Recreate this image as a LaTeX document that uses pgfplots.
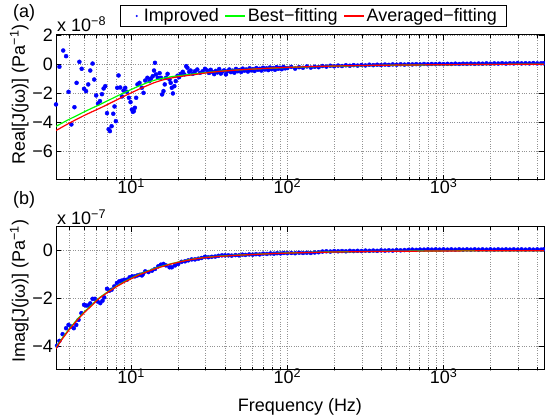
\documentclass[border=0pt]{standalone}
\usepackage{fontspec}
\setmainfont{Liberation Sans}
\usepackage{pgfplots}
\pgfplotsset{compat=1.18}
\newcommand{\bigf}{\fontsize{18}{21}\selectfont}
\begin{document}
\begin{tikzpicture}
% ---------------- (a) real part ----------------
\begin{axis}[scale only axis, width=488pt, xmode=log, xmin=3.3, xmax=4400,
  clip mode=individual,
  xtick={10,100,1000},
  xticklabels={10\textsuperscript{1},10\textsuperscript{2},10\textsuperscript{3}},
  minor xtick={4,5,6,7,8,9,20,30,40,50,60,70,80,90,200,300,400,500,600,700,800,900,2000,3000,4000},
  grid=both,
  major grid style={dotted, gray!85, line width=0.6pt},
  minor grid style={dotted, gray!85, line width=0.6pt},
  tick style={black, line width=0.6pt},
  major tick length=5pt, minor tick length=3pt,
  tick align=inside,
  axis line style={line width=1pt},
  tick label style={font=\bigf},
  xticklabel style={anchor=base, yshift=-13.5pt},
  yticklabel style={inner xsep=0pt, xshift=-3pt},
  label style={font=\bigf},
  ylabel style={at={(axis description cs:-0.0754,0.59)}, anchor=center},
  at={(56pt,239pt)}, anchor=south west, height=145pt,
  ymin=-8, ymax=2, ytick={-6,-4,-2,0,2}, yticklabels={−6,−4,−2,0,2},
  ylabel={Real[J(jω)] (Pa\textsuperscript{−1})},
  legend columns=3,
  legend style={at={(axis description cs:0.5274,1.131)}, anchor=center, draw=black, line width=0.8pt,
    font=\bigf, inner xsep=7pt, inner ysep=1.5pt,
    /tikz/every even column/.append style={column sep=4pt}},
]
\addplot[only marks, mark=*, mark size=2pt, mark options={draw=blue, fill=blue},
  legend image code/.code={\path[draw=none, fill=none] (0pt,0pt) -- (14pt,0pt); \fill[blue, draw=none] (9pt,0pt) circle (1.2pt);}] table {
3.30 -2.79
3.47 -0.19
3.67 0.93
3.83 0.54
3.97 -1.92
4.14 -4.17
4.33 -2.98
4.47 -1.30
4.66 0.15
4.82 -0.33
4.99 -1.71
5.14 -1.87
5.31 -1.41
5.47 -0.45
5.66 0.03
5.80 -1.07
5.97 -2.17
6.13 -2.72
6.31 -2.56
6.50 -2.08
6.66 -1.69
6.82 -1.53
7.00 -3.39
7.17 -4.50
7.31 -4.63
7.49 -4.29
7.68 -3.43
7.82 -2.93
7.98 -3.94
8.14 -1.64
8.30 -0.79
8.51 -1.62
8.73 -2.24
8.93 -1.83
9.16 -1.64
9.39 -1.92
9.67 -2.33
9.90 -2.63
10.1 -3.14
10.25 -3.30
10.4 -3.25
10.56 -3.02
10.76 -2.33
10.97 -1.41
11.3 -1.30
11.7 -1.64
11.99 -1.99
12.3 -1.14
12.7 -0.95
13.1 -1.18
13.4 -1.00
13.75 -0.84
14.0 -0.45
14.2 0.08
14.4 -0.72
14.8 -0.95
15.2 -0.63
15.5 -0.95
15.77 -2.10
16.1 -1.87
16.4 -1.41
16.7 -0.95
17.1 -0.68
17.6 -1.07
17.9 -1.30
18.2 -1.64
18.5 -2.03
18.9 -1.53
19.3 -1.18
19.8 -0.81
20.25 -0.91
20.8 -0.68
21.4 -0.54
21.9 -0.72
22.5 -0.15
22.9 -0.26
23.5 -0.54
24.0 -0.45
24.8 -0.68
25.6 -0.50
26.5 -0.38
27.6 -0.61
28.7 -0.50
29.7 -0.33
30.7 -0.45
31.5 -0.62
32.3 -0.40
33.1 -0.55
34.0 -0.70
34.8 -0.48
35.7 -0.58
36.6 -0.35
37.5 -0.66
38.4 -0.52
39.4 -0.44
40.4 -0.72
41.4 -0.50
42.5 -0.38
43.5 -0.56
44.6 -0.46
45.8 -0.60
46.9 -0.34
48.1 -0.50
49.3 -0.42
50.6 -0.55
51.8 -0.32
53.1 -0.46
54.5 -0.38
55.9 -0.52
57.3 -0.30
58.7 -0.44
60.2 -0.36
61.7 -0.48
63.3 -0.28
64.9 -0.40
66.5 -0.33
68.2 -0.45
69.9 -0.26
71.7 -0.38
73.5 -0.30
75.4 -0.42
77.3 -0.24
79.2 -0.36
81.2 -0.28
83.3 -0.40
85.4 -0.22
87.5 -0.33
89.8 -0.26
92.0 -0.36
94.4 -0.20
96.8 -0.30
100 -0.28
105.9 -0.20
112.2 -0.32
118.9 -0.22
125.9 -0.26
133.4 -0.17
141.3 -0.25
149.6 -0.19
158.5 -0.22
167.9 -0.14
177.8 -0.18
188.4 -0.12
199.5 -0.16
211.3 -0.11
223.9 -0.14
237.1 -0.09
251.2 -0.12
266.1 -0.08
281.8 -0.11
298.5 -0.07
316.2 -0.10
335.0 -0.05
354.8 -0.08
375.8 -0.05
398.1 -0.07
421.7 -0.04
446.7 -0.06
473.2 -0.03
501.2 -0.05
530.9 -0.02
562.3 -0.04
595.7 -0.02
631.0 -0.03
668.3 -0.01
707.9 -0.03
749.9 0.00
794.3 -0.02
841.4 0.00
891.3 -0.01
944.1 0.01
1000 -0.01
1059 0.01
1122 0.00
1189 0.02
1259 0.00
1334 0.02
1413 0.01
1496 0.03
1585 0.01
1679 0.03
1778 0.02
1884 0.04
1995 0.02
2113 0.04
2239 0.03
2371 0.05
2512 0.03
2661 0.05
2818 0.04
2985 0.06
3162 0.04
3350 0.05
3548 0.04
3758 0.06
3981 0.04
4217 0.05
4380 0.05
};
\addlegendentry{Improved}
\addplot[no marks, line width=1.2pt, green,
  legend image code/.code={\draw[green, line width=1.2pt] (0pt,0pt) -- (20pt,0pt);}] table {
3.3 -4.30
3.9 -3.88
4.5 -3.55
5.0 -3.30
5.6 -3.05
6.3 -2.80
7.1 -2.52
8.0 -2.25
9.0 -1.98
10 -1.76
11.2 -1.52
12.6 -1.30
14.1 -1.12
15.8 -0.99
17.8 -0.89
20 -0.81
22.4 -0.75
25.1 -0.69
28.2 -0.63
31.6 -0.57
35.5 -0.52
39.8 -0.47
44.7 -0.43
50 -0.40
63 -0.34
79 -0.29
100 -0.24
141 -0.19
200 -0.15
316 -0.11
500 -0.08
1000 -0.05
2000 -0.03
4400 -0.015
};
\addlegendentry{Best−fitting}
\addplot[no marks, line width=1.2pt, red,
  legend image code/.code={\draw[red, line width=1.2pt] (0pt,0pt) -- (20pt,0pt);}] table {
3.3 -4.59
3.9 -4.15
4.5 -3.80
5.0 -3.55
5.6 -3.30
6.3 -3.05
7.1 -2.78
8.0 -2.50
9.0 -2.22
10 -1.99
11.2 -1.74
12.6 -1.50
14.1 -1.28
15.8 -1.11
17.8 -0.98
20 -0.88
22.4 -0.81
25.1 -0.74
28.2 -0.66
31.6 -0.59
35.5 -0.53
39.8 -0.48
44.7 -0.44
50 -0.40
63 -0.34
79 -0.28
100 -0.23
141 -0.18
200 -0.14
316 -0.10
500 -0.075
1000 -0.05
2000 -0.03
4400 -0.015
};
\addlegendentry{Averaged−fitting}
\node[anchor=base west, inner sep=0pt, font=\bigf, xshift=-43pt, yshift=17pt] at (rel axis cs:0,1) {(a)};
\node[anchor=base west, inner sep=0pt, font=\bigf, xshift=1pt, yshift=3.3pt] at (rel axis cs:0,1) {x 10\textsuperscript{−8}};
\end{axis}
% ---------------- (b) imaginary part ----------------
\begin{axis}[scale only axis, width=488pt, xmode=log, xmin=3.3, xmax=4400,
  clip mode=individual,
  xtick={10,100,1000},
  xticklabels={10\textsuperscript{1},10\textsuperscript{2},10\textsuperscript{3}},
  minor xtick={4,5,6,7,8,9,20,30,40,50,60,70,80,90,200,300,400,500,600,700,800,900,2000,3000,4000},
  grid=both,
  major grid style={dotted, gray!85, line width=0.6pt},
  minor grid style={dotted, gray!85, line width=0.6pt},
  tick style={black, line width=0.6pt},
  major tick length=5pt, minor tick length=3pt,
  tick align=inside,
  axis line style={line width=1pt},
  tick label style={font=\bigf},
  xticklabel style={anchor=base, yshift=-13.5pt},
  yticklabel style={inner xsep=0pt, xshift=-3pt},
  label style={font=\bigf},
  ylabel style={at={(axis description cs:-0.0754,0.55)}, anchor=center},
  xlabel style={at={(axis description cs:0.5,0)}, anchor=base, yshift=-42pt},
  at={(56pt,49pt)}, anchor=south west, height=143.3pt,
  ymin=-5, ymax=1, ytick={-4,-2,0}, yticklabels={−4,−2,0},
  ylabel={Imag[J(jω)] (Pa\textsuperscript{−1})},
  xlabel={Frequency (Hz)},
]
\addplot[only marks, mark=*, mark size=2pt, mark options={draw=blue, fill=blue}] table {
3.35 -3.98
3.47 -3.78
3.64 -3.50
3.83 -3.25
3.97 -3.11
4.12 -3.18
4.29 -3.25
4.45 -3.11
4.60 -2.90
4.80 -2.62
4.99 -2.27
5.14 -2.30
5.31 -2.30
5.47 -2.21
5.66 -2.02
5.86 -2.02
6.09 -2.13
6.34 -2.20
6.55 -2.10
6.72 -1.96
7.00 -1.60
7.24 -1.68
7.49 -1.64
7.79 -1.50
8.10 -1.36
8.38 -1.29
8.67 -1.26
9.02 -1.22
9.39 -1.22
9.77 -1.12
10.15 -1.08
10.56 -1.08
10.97 -1.04
11.4 -1.01
11.7 -1.04
11.9 -0.98
12.3 -0.87
12.9 -0.90
13.6 -0.84
14.2 -0.77
14.9 -0.66
15.5 -0.59
16.1 -0.56
16.7 -0.62
17.6 -0.70
18.2 -0.70
19.1 -0.62
20.0 -0.56
21.0 -0.47
22.1 -0.45
23.2 -0.41
24.4 -0.37
25.6 -0.37
26.9 -0.34
28.2 -0.31
29.7 -0.26
31.2 -0.28
32.8 -0.26
34.5 -0.25
36.2 -0.22
38.1 -0.20
39.9 -0.20
41.9 -0.20
44 -0.21
46.5 -0.19
49 -0.20
51.5 -0.17
54 -0.18
57 -0.16
60 -0.17
63 -0.15
66.5 -0.16
70 -0.13
74 -0.14
78 -0.12
82 -0.13
86 -0.11
90.5 -0.12
95 -0.10
100 -0.11
105.9 -0.10
112.2 -0.11
118.9 -0.09
125.9 -0.10
133.4 -0.09
141.3 -0.10
149.6 -0.08
158.5 -0.07
167.9 -0.04
177.8 -0.03
188.4 -0.04
199.5 -0.02
211.3 -0.03
223.9 -0.02
237.1 -0.03
251.2 -0.01
266.1 -0.02
281.8 -0.01
298.5 -0.02
316.2 0.00
335.0 -0.01
354.8 0.00
375.8 -0.01
398.1 0.01
421.7 0.00
446.7 0.01
473.2 0.00
501.2 0.02
530.9 0.01
562.3 0.02
595.7 0.03
631.0 0.04
668.3 0.03
707.9 0.04
749.9 0.04
794.3 0.05
841.4 0.04
891.3 0.05
944.1 0.04
1000 0.05
1059 0.04
1122 0.05
1189 0.04
1259 0.05
1334 0.04
1413 0.05
1496 0.04
1585 0.05
1679 0.04
1778 0.05
1884 0.04
1995 0.05
2113 0.04
2239 0.05
2371 0.04
2512 0.05
2661 0.04
2818 0.05
2985 0.04
3162 0.05
3350 0.04
3548 0.05
3758 0.04
3981 0.05
4217 0.04
4380 0.05
};
\addplot[no marks, line width=1.2pt, green] table {
3.3 -4.07
3.6 -3.69
4.0 -3.29
4.5 -2.89
5.0 -2.57
5.6 -2.27
6.0 -2.08
6.3 -1.96
7.1 -1.72
8.0 -1.50
9.0 -1.31
10 -1.16
11.2 -1.00
12.6 -0.87
14.1 -0.75
15.8 -0.65
17.8 -0.56
20 -0.48
22.4 -0.41
25.1 -0.35
28.2 -0.30
31.6 -0.27
35.5 -0.24
39.8 -0.22
44.7 -0.20
50 -0.185
63 -0.155
79 -0.125
100 -0.10
141 -0.075
200 -0.055
316 -0.04
500 -0.025
1000 -0.013
2000 -0.007
4400 -0.003
};
\addplot[no marks, line width=1.2pt, red] table {
3.3 -4.10
3.6 -3.72
4.0 -3.32
4.5 -2.92
5.0 -2.60
5.6 -2.30
6.0 -2.10
6.3 -1.98
7.1 -1.74
8.0 -1.52
9.0 -1.33
10 -1.18
11.2 -1.02
12.6 -0.89
14.1 -0.77
15.8 -0.67
17.8 -0.57
20 -0.49
22.4 -0.42
25.1 -0.36
28.2 -0.31
31.6 -0.28
35.5 -0.25
39.8 -0.23
44.7 -0.21
50 -0.19
63 -0.16
79 -0.13
100 -0.105
141 -0.08
200 -0.06
316 -0.045
500 -0.03
1000 -0.016
2000 -0.009
4400 -0.004
};
\node[anchor=base west, inner sep=0pt, font=\bigf, xshift=-43pt, yshift=22pt] at (rel axis cs:0,1) {(b)};
\node[anchor=base west, inner sep=0pt, font=\bigf, xshift=1pt, yshift=1.7pt] at (rel axis cs:0,1) {x 10\textsuperscript{−7}};
\end{axis}
\pgfresetboundingbox
\useasboundingbox (0pt,0pt) rectangle (545pt,419pt);
\end{tikzpicture}
\end{document}
